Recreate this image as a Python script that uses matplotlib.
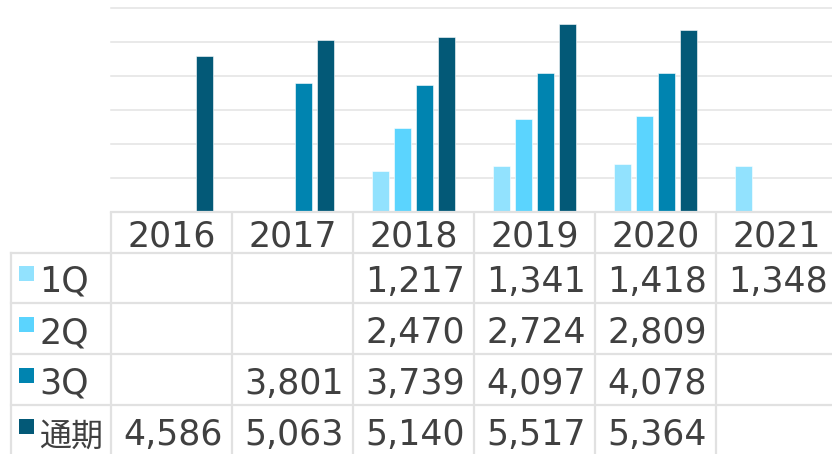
import numpy as np
import matplotlib
matplotlib.use("Agg")
import matplotlib.pyplot as plt
from matplotlib.patches import Rectangle

plt.rcParams['font.family'] = ['DejaVu Sans', 'Noto Sans CJK JP']

# data
years = ['2016', '2017', '2018', '2019', '2020', '2021']
series_names = ['1Q', '2Q', '3Q', '通期']
q1 = [np.nan, np.nan, 1217, 1341, 1418, 1348]
q2 = [np.nan, np.nan, 2470, 2724, 2809, np.nan]
q3 = [np.nan, 3801, 3739, 4097, 4078, np.nan]
full_year = [4586, 5063, 5140, 5517, 5364, np.nan]
colors = ['#92E2FE', '#5BD4FE', '#0084B0', '#035977']

W, H = 832, 454
CELL = 121.0          # px per category
LABEL_W = 100.0       # px of row-label column
TOP, BASE = 8, 212    # px of 6000 line and zero line
ROW_EDGES = [0, 41, 91, 142, 193, 244]   # px below BASE
TEXT = '#404040'
LINE = '#E1E1E1'

fig = plt.figure(figsize=(W / 100, H / 100), dpi=100)

# --- bar chart ---
x_right = -0.5 + (W - 111) / CELL
ax = fig.add_axes([111 / W, (H - BASE) / H, (W - 111) / W, (BASE - TOP) / H])
x = np.arange(len(years))
slot = 22 / CELL
bar_w = 17 / CELL
all_series = [q1, q2, q3, full_year]
for k, (vals, col) in enumerate(zip(all_series, colors)):
    ax.bar(x + (k - 1.5) * slot, vals, width=bar_w, color=col,
           edgecolor='#FFFFFF', linewidth=0.4, zorder=3)
ax.set_xlim(-0.5, x_right)
ax.set_ylim(0, 6000)
ax.set_yticks(np.arange(0, 6001, 1000))
ax.grid(axis='y', color='#E3E3E3', linewidth=1.1, zorder=0)
for gl in ax.get_ygridlines():
    gl.set_clip_on(False)
ax.tick_params(left=False, bottom=False, labelleft=False, labelbottom=False)
for s in ax.spines.values():
    s.set_visible(False)

# --- data table ---
tx_left = -0.5 - LABEL_W / CELL
tab = fig.add_axes([11 / W, 0, (W - 11) / W, (H - BASE) / H])
tab.set_xlim(tx_left, x_right)
tab.set_ylim(H - BASE, 0)
tab.axis('off')

lw = 1.6
tab.plot([-0.5, x_right + 1], [0, 0], color=LINE, lw=lw, clip_on=False)
for yy in ROW_EDGES[1:]:
    tab.plot([tx_left, x_right + 1], [yy, yy], color=LINE, lw=lw, clip_on=False)
for i in range(len(years) + 1):
    tab.plot([i - 0.5, i - 0.5], [0, H - BASE], color=LINE, lw=lw, clip_on=True)
tab.plot([tx_left, tx_left], [ROW_EDGES[1], H - BASE], color=LINE, lw=lw, clip_on=False)

fs = 25
for i, yr in enumerate(years):
    tab.text(i, ROW_EDGES[1] - 6, yr, ha='center', va='baseline',
             fontsize=fs, color=TEXT)

pad = 9 / CELL
for r, (name, vals, col) in enumerate(zip(series_names, all_series, colors)):
    base_y = ROW_EDGES[r + 2] - 11
    tab.add_patch(Rectangle((tx_left + 8 / CELL, base_y - 26), 15 / CELL, 15,
                            facecolor=col, edgecolor='none', clip_on=False))
    label_fs = fs if name.isascii() else 23
    tab.text(tx_left + 28 / CELL, base_y + (0 if name.isascii() else 1), name,
             ha='left', va='baseline', fontsize=label_fs, color=TEXT)
    for i, v in enumerate(vals):
        if not np.isnan(v):
            tab.text(i + 0.5 - pad, base_y, f'{int(v):,}', ha='right',
                     va='baseline', fontsize=fs, color=TEXT, clip_on=False)

fig.savefig('out.png', dpi=100)
